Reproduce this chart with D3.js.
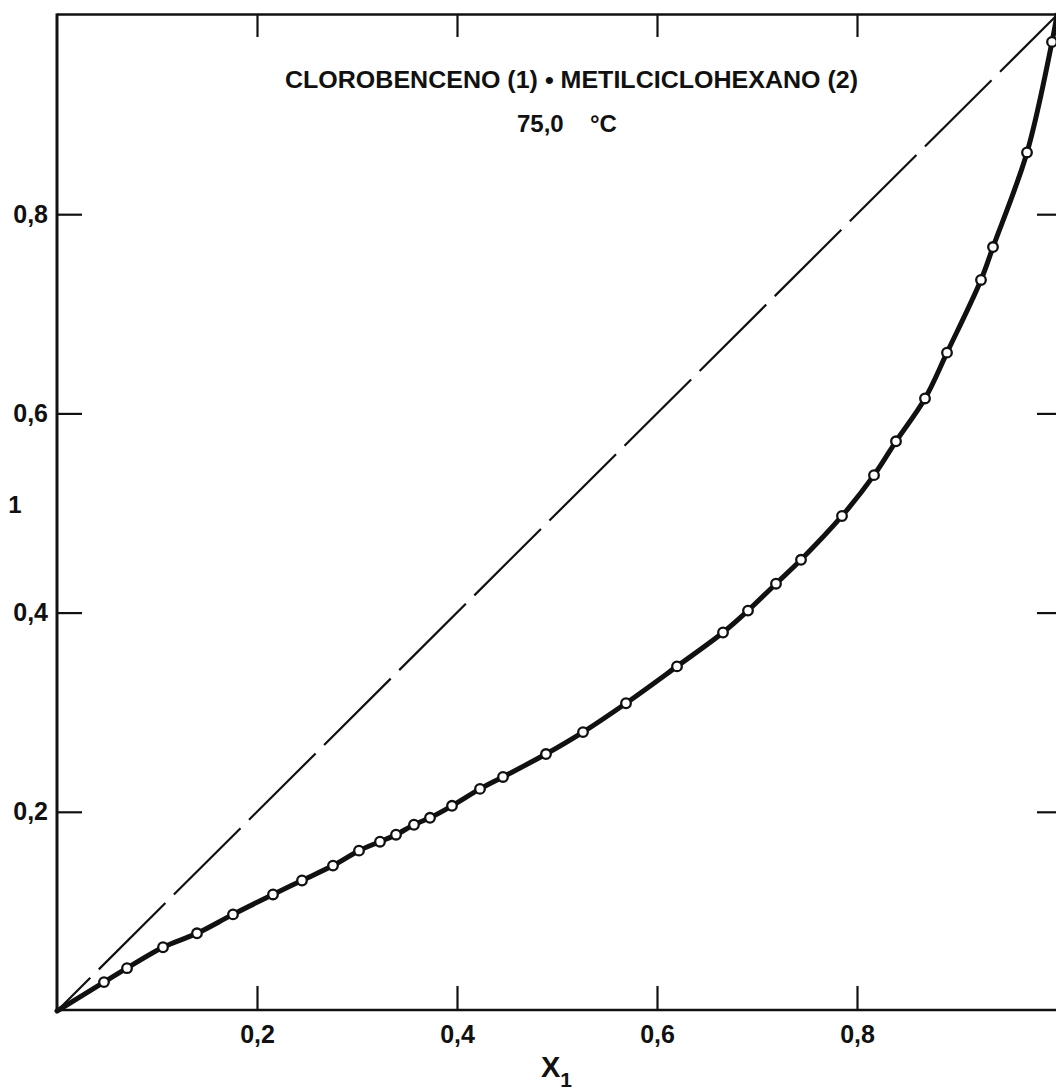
<!DOCTYPE html>
<html>
<head>
<meta charset="utf-8">
<script src="https://cdn.jsdelivr.net/npm/d3@7"></script>
<style>
  body { margin: 0; background: #fff; }
  svg { display: block; }
  text { font-family: "Liberation Sans", Arial, "DejaVu Sans", sans-serif; font-weight: bold; fill: #111; }
</style>
</head>
<body>
<script>
// Liquid-phase mole fraction x1 and vapour-phase mole fraction y1 (measured points)
const x1Values = [0.047, 0.070, 0.106, 0.140, 0.176, 0.216, 0.245, 0.276, 0.302, 0.323,
                  0.339, 0.357, 0.373, 0.395, 0.423, 0.446, 0.489, 0.526, 0.569, 0.620,
                  0.666, 0.691, 0.719, 0.744, 0.785, 0.817, 0.839, 0.868, 0.890, 0.924,
                  0.936, 0.970, 0.995];
const y1Values = [0.029, 0.043, 0.064, 0.078, 0.097, 0.117, 0.131, 0.146, 0.161, 0.170,
                  0.177, 0.187, 0.194, 0.206, 0.223, 0.235, 0.258, 0.280, 0.309, 0.346,
                  0.380, 0.402, 0.429, 0.453, 0.497, 0.538, 0.572, 0.615, 0.661, 0.734,
                  0.767, 0.862, 0.973];
// The smoothed curve runs from pure component 2 to pure component 1
const curveStart = [0, 0];
const curveEnd = [1, 1];

const xTicks = [0.2, 0.4, 0.6, 0.8];
const yTicks = [0.2, 0.4, 0.6, 0.8];
const titleText = "CLOROBENCENO (1) • METILCICLOHEXANO (2)";
const tempText = "75,0";
const unitText = "°C";
const xLabel = "X";
const xLabelSub = "1";
const yLabel = "1";

const W = 1056, H = 1091;
const svg = d3.select("body").append("svg").attr("width", W).attr("height", H);
svg.append("rect").attr("width", W).attr("height", H).attr("fill", "#fff");

const x = d3.scaleLinear().domain([0, 1]).range([57, 1057]);
const y = d3.scaleLinear().domain([0, 1]).range([1011, 15]);

const fmt = d => d3.format(".1f")(d).replace(".", ",");

// Frame (left, bottom, top; the right edge runs off the page)
const ink = "#111";
const frame = svg.append("g").attr("stroke", ink).attr("fill", "none");
frame.append("line").attr("x1", x(0)).attr("x2", x(0)).attr("y1", y(0) + 1).attr("y2", y(1) - 1.5).attr("stroke-width", 3);
frame.append("line").attr("x1", x(0)).attr("x2", x(1)).attr("y1", y(0) - 1).attr("y2", y(0) - 1).attr("stroke-width", 2.6);
frame.append("line").attr("x1", x(0)).attr("x2", x(1)).attr("y1", y(1) - 0.5).attr("y2", y(1) - 0.5).attr("stroke-width", 2.4);

function styleAxis(g) {
  g.select(".domain").remove();
  g.selectAll(".tick line").attr("stroke", ink).attr("stroke-width", 2.2);
  g.selectAll(".tick text").attr("font-size", 25).attr("font-family", null).attr("fill", ink);
}

// Bottom axis (ticks point inward)
svg.append("g").attr("transform", `translate(0,${y(0) - 1})`)
  .call(d3.axisBottom(x).tickValues(xTicks).tickSize(-24).tickPadding(15).tickFormat(fmt))
  .call(styleAxis);
// Top axis
svg.append("g").attr("transform", `translate(0,${y(1) - 1})`)
  .call(d3.axisTop(x).tickValues(xTicks).tickSize(-23).tickFormat(""))
  .call(styleAxis);
// Left axis
svg.append("g").attr("transform", `translate(${x(0)},0)`)
  .call(d3.axisLeft(y).tickValues(yTicks).tickSize(-25).tickPadding(9).tickFormat(fmt))
  .call(styleAxis);
// Right axis
svg.append("g").attr("transform", `translate(${x(1)},0)`)
  .call(d3.axisRight(y).tickValues(yTicks).tickSize(-20).tickFormat(""))
  .call(styleAxis);

// Diagonal y1 = x1
svg.append("line")
  .attr("x1", x(0)).attr("y1", y(0)).attr("x2", x(1)).attr("y2", y(1))
  .attr("stroke", ink).attr("stroke-width", 2.2)
  .attr("stroke-dasharray", "94,12").attr("stroke-dashoffset", 47);

// Equilibrium curve
const pts = x1Values.map((v, i) => [v, y1Values[i]]);
const curvePts = [curveStart, ...pts, curveEnd];
const line = d3.line().x(d => x(d[0])).y(d => y(d[1])).curve(d3.curveCatmullRom.alpha(0.5));
svg.append("path").datum(curvePts)
  .attr("d", line).attr("fill", "none").attr("stroke", ink)
  .attr("stroke-width", 5).attr("stroke-linejoin", "round").attr("stroke-linecap", "round");

// Experimental points
svg.append("g").selectAll("circle").data(pts).join("circle")
  .attr("cx", d => x(d[0])).attr("cy", d => y(d[1])).attr("r", 4.8)
  .attr("fill", "#fff").attr("stroke", ink).attr("stroke-width", 2.3);

// Titles
svg.append("text").attr("x", 285).attr("y", 88)
  .attr("font-size", 24).attr("textLength", 573).attr("lengthAdjust", "spacingAndGlyphs")
  .text(titleText);
const t2 = svg.append("text").attr("y", 132).attr("font-size", 24);
t2.append("tspan").attr("x", 517).text(tempText);
t2.append("tspan").attr("x", 590).text(unitText);

// Axis labels
const xl = svg.append("text").attr("x", 541).attr("y", 1077).attr("font-size", 29);
xl.append("tspan").text(xLabel);
xl.append("tspan").attr("font-size", 21).attr("dy", 10).text(xLabelSub);

svg.append("text").attr("x", 15).attr("y", 513).attr("text-anchor", "middle")
  .attr("font-size", 24).text(yLabel);
</script>
</body>
</html>
